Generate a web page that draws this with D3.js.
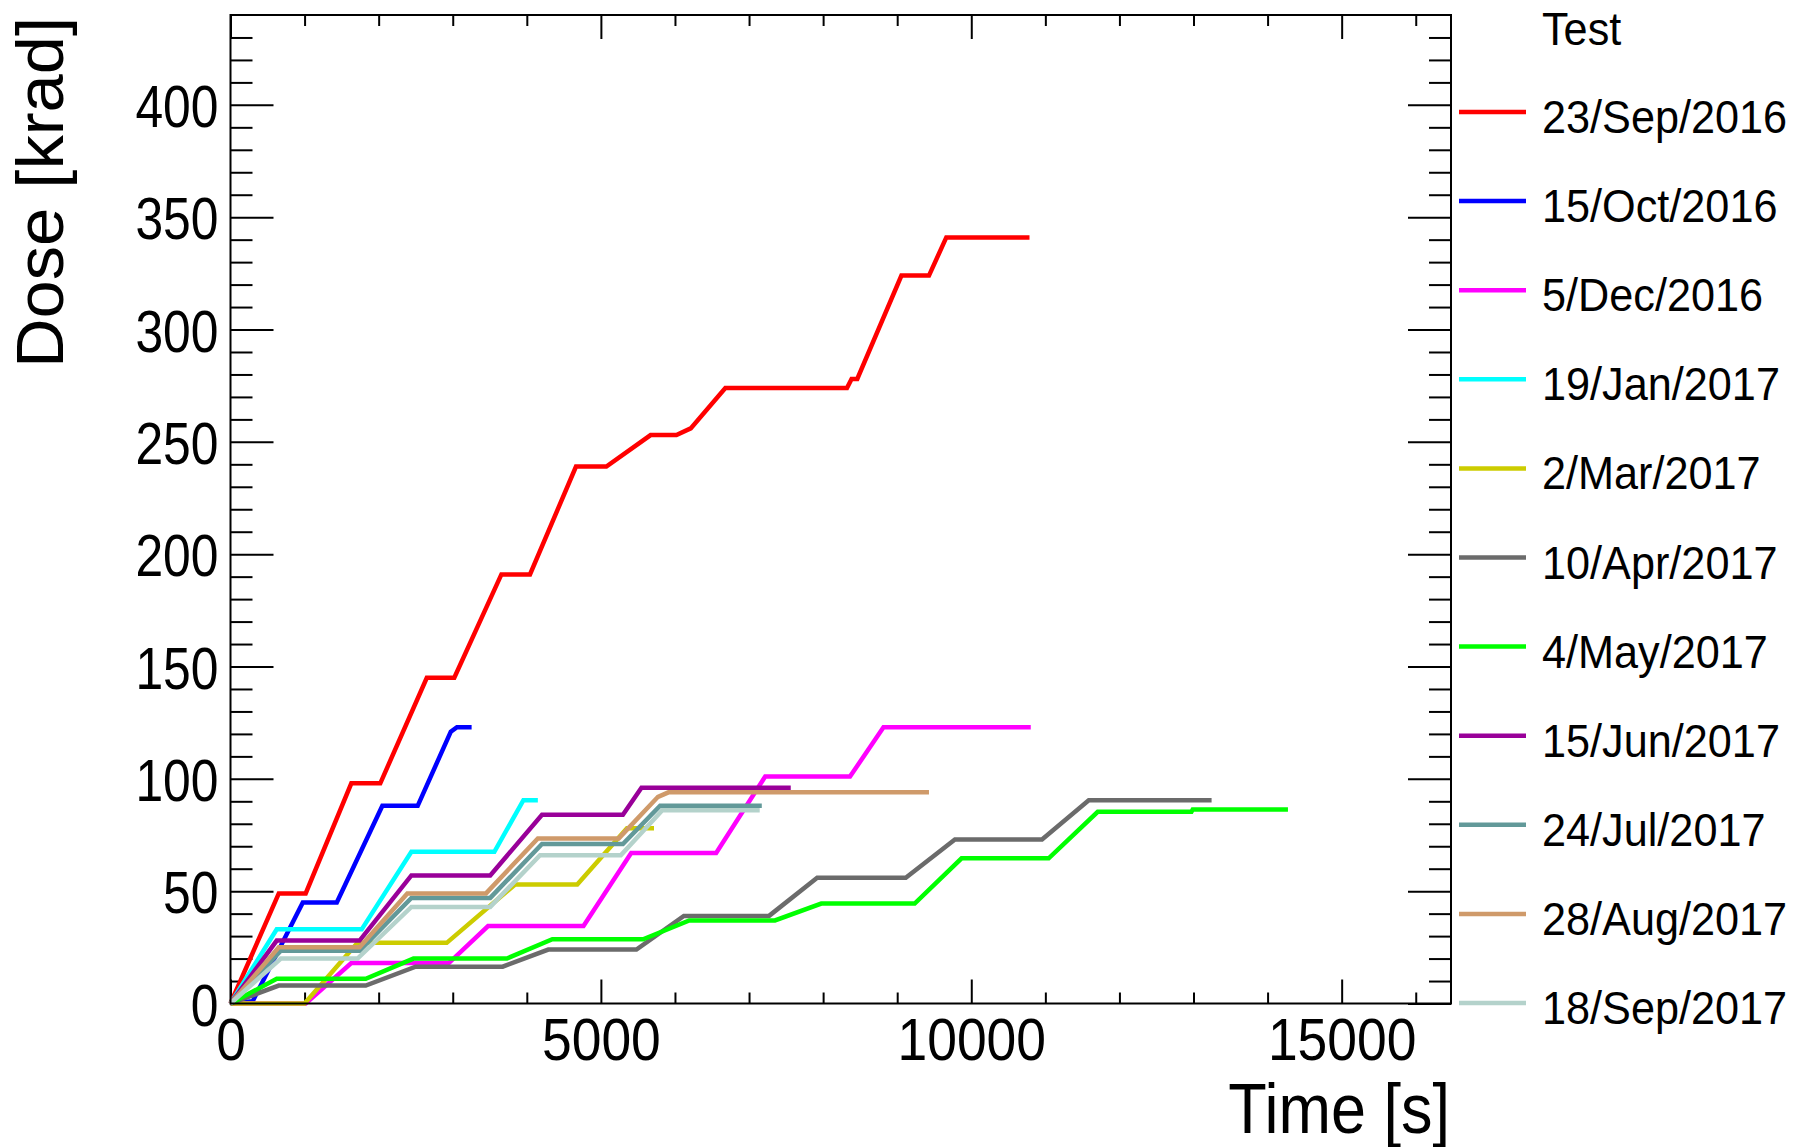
<!DOCTYPE html>
<html>
<head>
<meta charset="utf-8">
<script src="https://cdn.jsdelivr.net/npm/d3@7"></script>
<style>
  body { margin: 0; background: #fff; }
  text { font-family: "Liberation Sans", Arial, sans-serif; fill: #000; }
</style>
</head>
<body>
<div id="mainGraphic"></div>
<script>
let svgWidth = 1806
let svgHeight = 1147

// dose curves, [time s, dose krad]
const sep2016 = [[0,0],[652,49],[1015,49],[1631,98],[2022,98],[2650,145],[3021,145],[3657,191],[4043,191],[4664,239],[5074,239],[5671,253],[6020,253],[6213,256],[6680,274],[8322,274],[8384,278],[8461,278],[9057,324],[9429,324],[9663,341],[10786,341]]
const oct2016 = [[0,0],[300,1],[976,45],[1435,45],[2050,88],[2527,88],[2974,121],[3057,123],[3255,123]]
const dec2016 = [[0,0],[1015,0],[1631,18],[2947,18],[3477,34.5],[4765,34.5],[5409,67],[6556,67],[7218,101],[8363,101],[8815,123],[10803,123]]
const jan2017 = [[0,0],[624,33],[1771,33],[2442,67.5],[3562,67.5],[3954,90.5],[4149,90.5]]
const mar2017 = [[0,0],[1000,0],[1715,27],[2919,27],[3842,53],[4681,53],[5352,78],[5717,78]]
const apr2017 = [[0,0],[652,8],[1826,8],[2499,16.4],[3674,16.4],[4290,24],[5480,24],[6120,39],[7270,39],[7920,56],[9116,56],[9779,73],[10955,73],[11586,90.5],[13244,90.5]]
const may2017 = [[0,0],[624,11],[1826,11],[2470,20],[3730,20],[4345,28.6],[5570,28.6],[6193,37],[7350,37],[7975,44.5],[9236,44.5],[9869,64.6],[11045,64.6],[11707,85.3],[12972,85.3],[12990,86.4],[14275,86.4]]
const jun2017 = [[0,0],[624,28],[1743,28],[2442,57],[3506,57],[4205,84],[5297,84],[5548,96],[7563,96]]
const jul2017 = [[0,0],[680,23.5],[1743,23.5],[2442,47],[3506,47],[4205,71],[5297,71],[5800,88],[7172,88]]
const aug2017 = [[0,0],[652,25],[1743,25],[2387,49],[3449,49],[4149,73.5],[5241,73.5],[5771,92],[5912,94],[9429,94]]
const sep2017 = [[0,0],[680,20],[1715,20],[2442,43],[3506,43],[4178,66],[5269,66],[5829,86],[7144,86]]

const testNames = ["23/Sep/2016","15/Oct/2016","5/Dec/2016","19/Jan/2017","2/Mar/2017","10/Apr/2017","4/May/2017","15/Jun/2017","24/Jul/2017","28/Aug/2017","18/Sep/2017"]
const testColors = ["#ff0000","#0000ff","#ff00ff","#00ffff","#cccc00","#6b6b6b","#00ff00","#990099","#629999","#cf9a6a","#b4d2cb"]
const curves = [sep2016, oct2016, dec2016, jan2017, mar2017, apr2017, may2017, jun2017, jul2017, aug2017, sep2017]

const xMajor = [0, 5000, 10000, 15000]
const yMajor = [0, 50, 100, 150, 200, 250, 300, 350, 400]

renderChart();

function squeeze(sel, sx, dx, dy){
  sel.attr("x", 0).attr("dy", null).attr("y", 0)
    .attr("transform", `translate(${dx},${dy}) scale(${sx},1)`)
}

function renderChart(){
  let graphic = d3.select("#mainGraphic")
    .append("svg")
      .attr("width", svgWidth)
      .attr("height", svgHeight)

  let left = 230.5, right = 1451, top = 15, bottom = 1003.5

  let xScale = d3.scaleLinear().domain([0, 16476]).range([left, right])
  let yScale = d3.scaleLinear().domain([0, 440]).range([bottom, top])

  let xMinor = d3.range(1000, 16476, 1000).filter(v => v % 5000 != 0)
  let yMinor = d3.range(10, 440, 10).filter(v => v % 50 != 0)

  // minor ticks, all four sides
  graphic.append("g").attr("transform", `translate(${left},0)`)
    .call(d3.axisLeft(yScale).tickValues(yMinor).tickSizeInner(-22).tickSizeOuter(0).tickFormat(""))
  graphic.append("g").attr("transform", `translate(${right},0)`)
    .call(d3.axisRight(yScale).tickValues(yMinor).tickSizeInner(-22).tickSizeOuter(0).tickFormat(""))
  graphic.append("g").attr("transform", `translate(0,${bottom})`)
    .call(d3.axisBottom(xScale).tickValues(xMinor).tickSizeInner(-11).tickSizeOuter(0).tickFormat(""))
  graphic.append("g").attr("transform", `translate(0,${top})`)
    .call(d3.axisTop(xScale).tickValues(xMinor).tickSizeInner(-11).tickSizeOuter(0).tickFormat(""))

  // major ticks + labels
  let yAxis = graphic.append("g").attr("transform", `translate(${left},0)`)
    .call(d3.axisLeft(yScale).tickValues(yMajor).tickSizeInner(-43).tickSizeOuter(0).tickFormat(d3.format("d")))
  graphic.append("g").attr("transform", `translate(${right},0)`)
    .call(d3.axisRight(yScale).tickValues(yMajor).tickSizeInner(-43).tickSizeOuter(0).tickFormat(""))
  let xAxis = graphic.append("g").attr("transform", `translate(0,${bottom})`)
    .call(d3.axisBottom(xScale).tickValues(xMajor).tickSizeInner(-24).tickSizeOuter(0).tickFormat(d3.format("d")))
  graphic.append("g").attr("transform", `translate(0,${top})`)
    .call(d3.axisTop(xScale).tickValues(xMajor).tickSizeInner(-24).tickSizeOuter(0).tickFormat(""))

  graphic.selectAll(".domain").remove()
  graphic.selectAll(".tick line").attr("stroke", "#000").attr("stroke-width", 2)

  yAxis.selectAll("text")
    .style("font-size", "60px").attr("text-anchor", "end").attr("fill", "#000")
    .call(squeeze, 0.83, -12, 21.5)
  xAxis.selectAll("text")
    .style("font-size", "60px").attr("text-anchor", "middle").attr("fill", "#000")
    .call(squeeze, 0.89, 0, 56.5)

  // curves
  let line = d3.line()
    .x(d => xScale(d[0]))
    .y(d => yScale(d[1]))

  graphic.append("g")
    .selectAll("path")
    .data(curves)
    .enter()
    .append("path")
      .attr("d", line)
      .attr("fill", "none")
      .attr("stroke", (d, i) => testColors[i])
      .attr("stroke-width", 4.5)
      .attr("stroke-linejoin", "miter")

  // frame
  graphic.append("rect")
    .attr("x", left).attr("y", top)
    .attr("width", right - left).attr("height", bottom - top)
    .attr("fill", "none").attr("stroke", "#000").attr("stroke-width", 2)

  // axis titles
  graphic.append("text")
    .attr("text-anchor", "end")
    .attr("transform", `translate(1450,1133) scale(0.9,1)`)
    .style("font-size", "70px")
    .text("Time [s]")
  graphic.append("text")
    .attr("text-anchor", "end")
    .attr("transform", `translate(63,17) rotate(-90) scale(1.04,1)`)
    .style("font-size", "66px")
    .text("Dose [krad]")

  // legend
  let legend = graphic.append("g")
  legend.append("text")
    .attr("transform", `translate(1542,45) scale(0.92,1)`)
    .style("font-size", "47px")
    .text("Test")
  let entry = legend.selectAll(".entry")
    .data(testNames)
    .enter()
    .append("g")
      .attr("class", "entry")
      .attr("transform", (d, i) => `translate(0,${112 + i * 89.1})`)
  entry.append("line")
    .attr("x1", 1459).attr("x2", 1526)
    .attr("stroke", (d, i) => testColors[i])
    .attr("stroke-width", 4.5)
  entry.append("text")
    .attr("transform", `translate(1542,21) scale(0.92,1)`)
    .style("font-size", "47px")
    .text(d => d)
}
</script>
</body>
</html>
